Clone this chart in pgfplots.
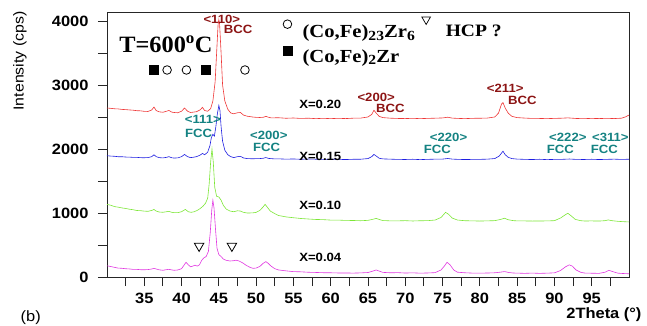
\documentclass[border=0pt]{standalone}
\usepackage{fontspec}
\setmainfont{Liberation Serif}
\setsansfont{Liberation Sans}
\newfontfamily\labfont[FakeStretch=1.1]{Liberation Sans}
\newfontfamily\legfont[FakeStretch=1.12]{Liberation Serif}
\newfontfamily\tfont[FakeStretch=1.04]{Liberation Serif}
\usepackage{pgfplots}
\pgfplotsset{compat=1.18}
\definecolor{cred}{RGB}{238,55,55}
\definecolor{cblue}{RGB}{30,30,225}
\definecolor{cgreen}{RGB}{125,230,55}
\definecolor{cmag}{RGB}{225,55,225}
\definecolor{cdark}{RGB}{140,20,20}
\definecolor{cteal}{RGB}{20,130,130}
\tikzset{
  bccl/.style={font=\labfont\bfseries\fontsize{12}{12}\selectfont, text=cdark, inner sep=0pt},
  fccl/.style={font=\labfont\bfseries\fontsize{12}{12}\selectfont, text=cteal, inner sep=0pt},
  xl/.style={font=\labfont\bfseries\fontsize{12}{12}\selectfont, text=black, inner sep=0pt},
  leg/.style={font=\legfont\bfseries\fontsize{18.5}{19}\selectfont, anchor=west, inner sep=0pt},
}
\newcommand{\sub}[1]{\raisebox{-0.3ex}{\fontsize{14}{14}\selectfont #1}}
\begin{document}
\begin{tikzpicture}
\begin{axis}[
  at={(0,0)}, anchor=south west,
  scale only axis, width=522bp, height=265bp,
  xmin=30, xmax=100, ymin=0, ymax=4140,
  axis line style={line width=0.9bp, black!85},
  tick align=outside, tick pos=left,
  xtick={35,40,...,95}, minor xtick={32.5,37.5,...,97.5},
  ytick={0,1000,...,4000}, minor ytick={500,1500,2500,3500},
  major tick length=9bp, minor tick length=9bp,
  every tick/.style={line width=0.9bp, black!85},
  ticklabel style={font=\labfont\bfseries\fontsize{15}{15}\selectfont},
  yticklabel style={xshift=-6bp},
  xticklabel style={yshift=-4bp},
  /pgf/number format/assume math mode=true,
  /pgf/number format/1000 sep={},
  clip=false,
]
% X=0.20
\addplot[cred, line width=0.6bp] coordinates {
(30,2640)(30.5,2635)(31,2628)(31.5,2626)(32,2618)(32.5,2615)(33,2610)(33.5,2606)(34,2598)(34.5,2596)(35,2588)(35.5,2586)
(36,2610)(36.3,2655)(36.6,2600)(37,2580)(37.5,2574)(38,2590)(38.3,2602)(38.7,2575)(39,2570)(39.5,2566)
(40,2590)(40.4,2640)(40.8,2590)(41.2,2570)(41.6,2576)(42,2582)(42.5,2612)(42.8,2650)(43.1,2600)(43.5,2590)
(43.9,2630)(44.2,2750)(44.5,3050)(44.7,3500)(44.9,3950)(45.0,4020)(45.1,3950)(45.3,3500)(45.5,3000)(45.8,2750)
(46.2,2620)(46.6,2562)(47,2550)(47.5,2566)(47.9,2570)(48.3,2530)(48.8,2512)(49.5,2500)(50,2494)(50.5,2492)
(51,2496)(51.3,2510)(51.7,2494)(52,2486)(53,2488)(54,2480)(55,2484)(56,2477)(57,2481)(58,2474)(59,2479)(60,2474)
(61,2479)(62,2475)(63,2481)(64,2482)(65,2500)(65.5,2540)(65.8,2605)(66.1,2560)(66.5,2510)(67,2490)(68,2481)
(69,2477)(70,2475)(71,2479)(72,2474)(73,2478)(74,2481)(75,2485)(75.7,2496)(76.3,2482)(77,2478)(78,2474)(79,2479)
(80,2480)(81,2483)(82,2500)(82.5,2560)(82.9,2700)(83.1,2725)(83.4,2640)(83.8,2560)(84.3,2510)(85,2490)(86,2483)
(87,2477)(88,2477)(89,2474)(90,2478)(91,2481)(91.8,2486)(92.5,2480)(93,2476)(94,2474)(95,2478)(96,2475)(97,2479)
(98,2475)(99,2481)(99.5,2500)(100,2530)};
% X=0.15
\addplot[cblue, line width=0.6bp] coordinates {
(30,1895)(30.5,1889)(31,1886)(31.5,1879)(32,1879)(32.5,1874)(33,1873)(33.5,1869)(34,1869)(34.5,1864)(35,1863)(35.5,1866)
(36,1880)(36.3,1910)(36.6,1880)(37,1865)(37.5,1860)(38,1870)(38.3,1880)(38.7,1862)(39,1858)(39.5,1861)
(40,1880)(40.4,1915)(40.8,1880)(41.2,1865)(41.6,1871)(42,1880)(42.5,1905)(42.8,1930)(43.1,1910)(43.5,1950)
(43.8,2050)(44.0,2180)(44.2,2230)(44.4,2200)(44.6,2350)(44.8,2550)(45.0,2680)(45.15,2600)(45.3,2350)(45.5,2120)
(45.8,1980)(46.2,1910)(46.6,1880)(47,1865)(47.5,1880)(47.9,1885)(48.3,1860)(48.8,1850)(49.5,1847)(50,1849)
(50.5,1850)(51,1856)(51.3,1866)(51.7,1852)(52.5,1845)(53,1846)(54,1841)(55,1844)(56,1839)(57,1843)(58,1840)
(59,1837)(60,1841)(61,1838)(62,1835)(63,1839)(64,1840)(65,1850)(65.5,1880)(65.8,1915)(66.1,1890)(66.5,1855)
(67,1845)(68,1841)(69,1837)(70,1836)(71,1839)(72,1834)(73,1838)(74,1841)(75,1842)(75.7,1851)(76.3,1842)(77,1838)
(78,1835)(79,1837)(80,1838)(81,1841)(82,1850)(82.6,1890)(83.1,1965)(83.4,1910)(83.8,1870)(84.3,1850)(85,1842)
(86,1838)(87,1835)(88,1839)(89,1834)(90,1837)(91,1838)(92,1843)(93,1837)(94,1836)(95,1839)(96,1835)(97,1838)
(98,1841)(99,1837)(100,1840)};
% X=0.10
\addplot[cgreen, line width=0.6bp] coordinates {
(30,1135)(30.5,1121)(31,1100)(31.5,1091)(32,1079)(32.5,1071)(33,1059)(33.5,1051)(34,1039)(34.5,1036)(35,1029)(35.5,1026)
(36,1040)(36.3,1055)(36.6,1030)(37,1015)(37.5,1011)(38,1020)(38.3,1025)(38.7,1010)(39,1005)(39.5,1006)
(40,1020)(40.5,1055)(40.9,1020)(41.3,1010)(41.7,1020)(42.1,1040)(42.5,1070)(42.9,1110)(43.2,1150)(43.5,1230)
(43.7,1450)(43.9,1800)(44.08,2000)(44.25,1800)(44.45,1400)(44.7,1260)(45.0,1250)(45.3,1200)(45.6,1120)(46,1060)
(46.5,1030)(47,1020)(47.5,1035)(47.9,1030)(48.3,1010)(48.8,1000)(49.5,1001)(50,1010)(50.5,1040)(50.9,1090)
(51.2,1135)(51.5,1090)(51.9,1030)(52.5,990)(53,961)(54,939)(55,926)(56,914)(57,906)(58,899)(59,896)(60,889)
(61,889)(62,884)(63,883)(64,879)(65,885)(65.6,900)(66.1,915)(66.6,895)(67,882)(68,877)(69,877)(70,880)(71,875)
(72,879)(73,880)(74,890)(74.8,930)(75.4,1010)(75.8,980)(76.3,920)(77,890)(78,879)(79,877)(80,874)(81,877)
(82,880)(82.8,900)(83.3,918)(83.8,895)(84.5,880)(85,877)(86,876)(87,874)(88,875)(89,876)(90,880)(90.8,920)
(91.5,975)(91.8,995)(92.3,950)(92.8,900)(93.5,880)(94,875)(95,876)(96,874)(96.8,880)(97.2,892)(97.7,880)
(98.5,870)(99,866)(100,860)};
% X=0.04
\addplot[cmag, line width=0.6bp] coordinates {
(30,175)(30.5,164)(31,151)(31.5,139)(32,136)(32.5,129)(33,126)(33.5,119)(34,119)(34.5,114)(35,113)(35.5,116)
(36,125)(36.3,135)(36.6,125)(37,112)(37.5,105)(38,115)(38.3,120)(38.7,110)(39,105)(39.5,110)(40,130)(40.3,180)
(40.6,230)(40.9,190)(41.2,160)(41.5,170)(41.8,185)(42.1,170)(42.4,190)(42.7,260)(43.0,300)(43.3,320)(43.6,400)
(43.85,700)(44.05,1050)(44.2,1200)(44.35,1080)(44.55,750)(44.75,450)(45.0,350)(45.3,320)(45.6,280)(46,260)
(46.5,250)(47,255)(47.3,262)(47.7,250)(48.2,220)(48.7,180)(49.2,150)(49.6,135)(50,140)(50.5,165)(50.9,210)
(51.3,240)(51.6,215)(52,170)(52.5,130)(53,110)(54,96)(55,84)(56,81)(57,74)(58,71)(59,67)(60,66)(61,63)(62,63)
(63,61)(64,64)(65,70)(65.6,90)(66.1,110)(66.6,88)(67,72)(68,66)(69,68)(70,62)(71,65)(72,60)(73,63)(74,68)
(74.8,110)(75.3,180)(75.6,230)(76,190)(76.5,110)(77,75)(78,66)(79,61)(80,61)(81,62)(82,66)(82.7,75)(83.3,85)
(83.9,70)(84.5,62)(85,61)(86,57)(87,61)(88,57)(89,60)(90,65)(90.8,100)(91.5,160)(92.0,190)(92.4,170)(92.9,110)
(93.5,75)(94,62)(95,59)(96,57)(96.8,75)(97.3,105)(97.8,85)(98.5,60)(99,56)(100,50)};
% phase marks
\addplot[only marks, mark=square*, mark size=4.3bp, black] coordinates {(36.3,3234)(43.2,3234)(54.2,3531)};
\addplot[only marks, mark=o, mark size=4.3bp, black, mark options={line width=0.8bp}] coordinates {(38.06,3234)(40.65,3234)(48.5,3234)(54.2,3950)};
\addplot[only marks, mark=triangle, mark size=5.5bp, black, mark options={rotate=180, line width=0.8bp}] coordinates {(42.35,485)(46.75,485)};
\addplot[only marks, mark=triangle, mark size=5bp, black, mark options={rotate=180, line width=0.7bp}] coordinates {(72.8,4023)};
% texts
\node[font=\tfont\bfseries\fontsize{23.5}{23.5}\selectfont, inner sep=0pt] at (axis cs:37.9,3640) {T=600\textsuperscript{o}C};
\node[leg] at (axis cs:56.2,3810) {(Co,Fe)\sub{23}Zr\sub{6}};
\node[leg, font=\legfont\bfseries\fontsize{17.5}{18}\selectfont] at (axis cs:75.4,3840) {HCP ?};
\node[leg] at (axis cs:56.2,3425) {(Co,Fe)\sub{2}Zr};
\node[bccl] at (axis cs:45.4,4031) {<110>};
\node[bccl] at (axis cs:47.6,3875) {BCC};
\node[bccl] at (axis cs:66.1,2800) {<200>};
\node[bccl] at (axis cs:68.0,2630) {BCC};
\node[bccl] at (axis cs:83.4,2953) {<211>};
\node[bccl] at (axis cs:85.7,2766) {BCC};
\node[fccl] at (axis cs:42.85,2469) {<111>};
\node[fccl] at (axis cs:42.3,2250) {FCC};
\node[fccl] at (axis cs:51.7,2219) {<200>};
\node[fccl] at (axis cs:51.4,2031) {FCC};
\node[fccl] at (axis cs:75.8,2188) {<220>};
\node[fccl] at (axis cs:74.3,2000) {FCC};
\node[fccl] at (axis cs:91.8,2188) {<222>};
\node[fccl] at (axis cs:90.8,2000) {FCC};
\node[fccl] at (axis cs:97.5,2188) {<311>};
\node[fccl] at (axis cs:96.7,2000) {FCC};
\node[xl] at (axis cs:58.6,2690) {X=0.20};
\node[xl] at (axis cs:58.6,1890) {X=0.15};
\node[xl] at (axis cs:58.6,1114) {X=0.10};
\node[xl] at (axis cs:58.6,302) {X=0.04};
\node[rotate=90, font=\labfont\fontsize{14.5}{14.5}\selectfont] at (rel axis cs:-0.167,0.815) {Intensity (cps)};
\node[font=\labfont\bfseries\fontsize{15}{15}\selectfont] at (rel axis cs:0.952,-0.142) {2Theta (°)};
\node[font=\labfont\fontsize{15}{15}\selectfont] at (rel axis cs:-0.146,-0.155) {(b)};
\end{axis}
\pgfresetboundingbox
\path[use as bounding box] (-107bp,-49bp) rectangle (540bp,277bp);
\end{tikzpicture}
\end{document}
